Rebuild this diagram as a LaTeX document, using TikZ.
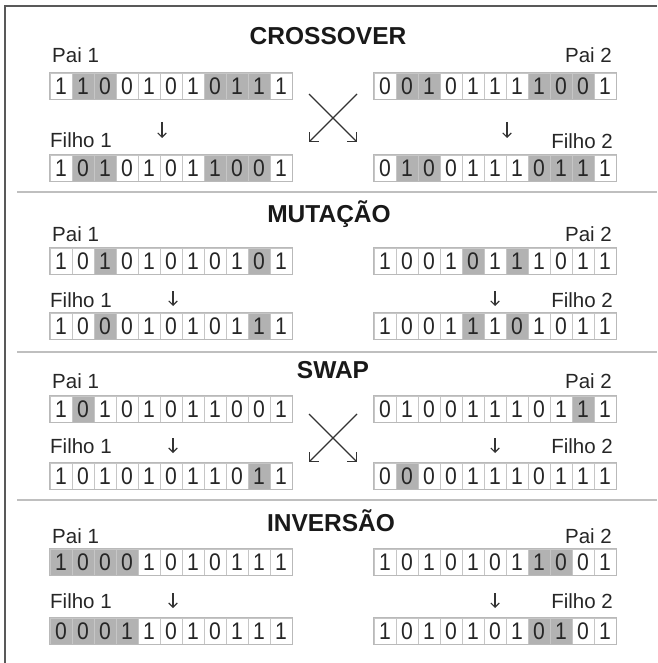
\documentclass[tikz,border=0pt]{standalone}
\usepackage{fontspec}
\setmainfont{Liberation Sans}
\newfontfamily\bitfont[FakeStretch=0.88]{Liberation Sans}
\usetikzlibrary{arrows.meta}
\colorlet{bw}{white}
\colorlet{bg}{gray!60}
% one chromosome: name, left edge, centre y, list of bit/fill
\newcommand{\bitrow}[4]{%
  \foreach \bit/\col [count=\k] in {#4}
    \node[cell, fill=\col] (#1-\k) at ({#2+22*\k-11},#3) {\bit};
  \draw[rowbox] (#1-1.north west) rectangle (#1-11.south east);
}

\begin{document}
\begin{tikzpicture}[x=1pt, y=-1pt,
  cell/.style={draw=gray!45, line width=0.8pt, minimum width=22pt, minimum height=26pt,
    inner sep=0pt, text=black!85, font=\bitfont\fontsize{24}{24}\selectfont},
  rowbox/.style={draw=gray!55, line width=1.4pt},
  lbl/.style={inner sep=0pt, text=black!85, font=\fontsize{20.5}{20.5}\selectfont},
  ttl/.style={inner sep=0pt, anchor=base, text=black!90, font=\bfseries\fontsize{24.5}{24.5}\selectfont},
  dn/.style={line width=1.1pt, black!80, -{Straight Barb[angle=90:6pt]}},
  xarr/.style={line width=1.2pt, black!80, -{Straight Barb[angle=90:9pt]}},
  sep/.style={gray!50, line width=2pt}]
  \useasboundingbox (0,0) rectangle (657,663);
  % frame and separators
  \draw[gray!70!black, line width=1.5pt] (5,663) -- (5,6) -- (657,6);
  \draw[sep] (17,192) -- (657,192);
  \draw[sep] (17,352) -- (657,352);
  \draw[sep] (17,500) -- (657,500);

  % crossover
  \node[ttl] (tc) at (328,45) {CROSSOVER};
  \node[lbl, anchor=west] (lcp1) at (52,55) {Pai 1};
  \node[lbl, anchor=east] (lcp2) at (612,55) {Pai 2};
  \node[lbl, anchor=west] (lcf1) at (50,140) {Filho 1};
  \node[lbl, anchor=east] (lcf2) at (613,141) {Filho 2};
  \bitrow{cp1}{50}{86}{1/bw,1/bg,0/bg,0/bw,1/bw,0/bw,1/bw,0/bg,1/bg,1/bg,1/bw}
  \bitrow{cp2}{374}{86}{0/bw,0/bg,1/bg,0/bw,1/bw,1/bw,1/bw,1/bg,0/bg,0/bg,1/bw}
  \bitrow{cf1}{50}{168}{1/bw,0/bg,1/bg,0/bw,1/bw,0/bw,1/bw,1/bg,0/bg,0/bg,1/bw}
  \bitrow{cf2}{374}{168}{0/bw,1/bg,0/bg,0/bw,1/bw,1/bw,1/bw,0/bg,1/bg,1/bg,1/bw}
  \coordinate (ca1) at (162,122); \coordinate (cb1) at (162,138);
  \coordinate (ca2) at (507,122); \coordinate (cb2) at (507,138);
  \draw[dn] (ca1) -- (cb1);
  \draw[dn] (ca2) -- (cb2);
  \coordinate (cxa) at (309,94); \coordinate (cxb) at (357,94);
  \coordinate (cxc) at (309,142); \coordinate (cxd) at (357,142);
  \draw[xarr] (cxb) -- (cxc);
  \draw[xarr] (cxa) -- (cxd);

  % mutacao
  \node[ttl] (tm) at (329,222) {MUTAÇÃO};
  \node[lbl, anchor=west] (lmp1) at (52,234) {Pai 1};
  \node[lbl, anchor=east] (lmp2) at (612,234) {Pai 2};
  \node[lbl, anchor=west] (lmf1) at (50,300) {Filho 1};
  \node[lbl, anchor=east] (lmf2) at (613,300) {Filho 2};
  \bitrow{mp1}{50}{261}{1/bw,0/bw,1/bg,0/bw,1/bw,0/bw,1/bw,0/bw,1/bw,0/bg,1/bw}
  \bitrow{mp2}{374}{261}{1/bw,0/bw,0/bw,1/bw,0/bg,1/bw,1/bg,1/bw,0/bw,1/bw,1/bw}
  \bitrow{mf1}{50}{326}{1/bw,0/bw,0/bg,0/bw,1/bw,0/bw,1/bw,0/bw,1/bw,1/bg,1/bw}
  \bitrow{mf2}{374}{326}{1/bw,0/bw,0/bw,1/bw,1/bg,1/bw,0/bg,1/bw,0/bw,1/bw,1/bw}
  \coordinate (ma1) at (173,291); \coordinate (mb1) at (173,306);
  \coordinate (ma2) at (495,291); \coordinate (mb2) at (495,306);
  \draw[dn] (ma1) -- (mb1);
  \draw[dn] (ma2) -- (mb2);

  % swap
  \node[ttl] (ts) at (333,378) {SWAP};
  \node[lbl, anchor=west] (lsp1) at (52,381) {Pai 1};
  \node[lbl, anchor=east] (lsp2) at (612,381) {Pai 2};
  \node[lbl, anchor=west] (lsf1) at (50,446) {Filho 1};
  \node[lbl, anchor=east] (lsf2) at (613,446) {Filho 2};
  \bitrow{sp1}{50}{409}{1/bw,0/bg,1/bw,0/bw,1/bw,0/bw,1/bw,1/bw,0/bw,0/bw,1/bw}
  \bitrow{sp2}{374}{409}{0/bw,1/bw,0/bw,0/bw,1/bw,1/bw,1/bw,0/bw,1/bw,1/bg,1/bw}
  \bitrow{sf1}{50}{476}{1/bw,0/bw,1/bw,0/bw,1/bw,0/bw,1/bw,1/bw,0/bw,1/bg,1/bw}
  \bitrow{sf2}{374}{476}{0/bw,0/bg,0/bw,0/bw,1/bw,1/bw,1/bw,0/bw,1/bw,1/bw,1/bw}
  \coordinate (sa1) at (173,438); \coordinate (sb1) at (173,453);
  \coordinate (sa2) at (495,438); \coordinate (sb2) at (495,453);
  \draw[dn] (sa1) -- (sb1);
  \draw[dn] (sa2) -- (sb2);
  \coordinate (sxa) at (309,414); \coordinate (sxb) at (357,414);
  \coordinate (sxc) at (309,462); \coordinate (sxd) at (357,462);
  \draw[xarr] (sxb) -- (sxc);
  \draw[xarr] (sxa) -- (sxd);

  % inversao
  \node[ttl] (ti) at (331,531) {INVERSÃO};
  \node[lbl, anchor=west] (lip1) at (52,536) {Pai 1};
  \node[lbl, anchor=east] (lip2) at (612,536) {Pai 2};
  \node[lbl, anchor=west] (lif1) at (50,601) {Filho 1};
  \node[lbl, anchor=east] (lif2) at (613,601) {Filho 2};
  \bitrow{ip1}{50}{562}{1/bg,0/bg,0/bg,0/bg,1/bw,0/bw,1/bw,0/bw,1/bw,1/bw,1/bw}
  \bitrow{ip2}{374}{562}{1/bw,0/bw,1/bw,0/bw,1/bw,0/bw,1/bw,1/bg,0/bg,0/bw,1/bw}
  \bitrow{if1}{50}{631}{0/bg,0/bg,0/bg,1/bg,1/bw,0/bw,1/bw,0/bw,1/bw,1/bw,1/bw}
  \bitrow{if2}{374}{631}{1/bw,0/bw,1/bw,0/bw,1/bw,0/bw,1/bw,0/bg,1/bg,0/bw,1/bw}
  \coordinate (ia1) at (173,593); \coordinate (ib1) at (173,608);
  \coordinate (ia2) at (495,593); \coordinate (ib2) at (495,608);
  \draw[dn] (ia1) -- (ib1);
  \draw[dn] (ia2) -- (ib2);
\end{tikzpicture}
\end{document}
